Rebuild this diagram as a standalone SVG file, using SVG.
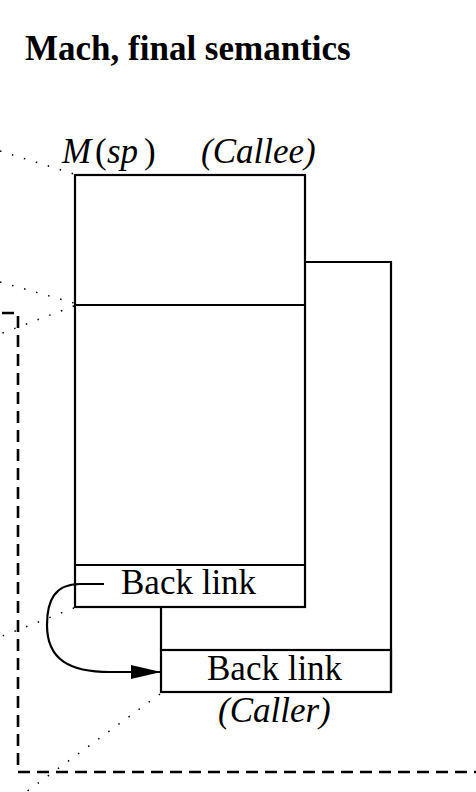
<svg xmlns="http://www.w3.org/2000/svg" width="476" height="792" viewBox="0 0 476 792">
<style>
.box{fill:none;stroke:#000;stroke-width:2.2}
.ln{fill:none;stroke:#000;stroke-width:2.2}
.dot{fill:none;stroke:#000;stroke-width:1.5;stroke-dasharray:1.5 11}
.dash{fill:none;stroke:#000;stroke-width:2.6;stroke-dasharray:12 7}
.t{font-family:"Liberation Serif","Times New Roman",serif;font-size:35px;fill:#000}
.i{font-style:italic}
.title{font-family:"Liberation Serif","Times New Roman",serif;font-size:35px;font-weight:bold;fill:#000}
</style>
<defs>
<marker id="ah" markerWidth="30" markerHeight="14" refX="30" refY="7" orient="auto" markerUnits="userSpaceOnUse">
<path d="M0,0 L30,7 L0,14 Z" fill="#000"/>
</marker>
</defs>
<text class="title" x="25" y="60">Mach, final semantics</text>
<g id="callee">
<rect class="box" x="75" y="175" width="230" height="432"/>
<line class="ln" x1="75" y1="305" x2="305" y2="305"/>
<line class="ln" x1="75" y1="565" x2="305" y2="565"/>
<text class="t" x="121" y="594">Back link</text>
<text class="t" y="163"><tspan class="i" x="62">M</tspan><tspan x="95">(</tspan><tspan class="i" x="107">sp</tspan><tspan x="144">)</tspan></text>
<text class="t i" x="201" y="163">(Callee)</text>
</g>
<g id="caller">
<polyline class="ln" points="305,262 391,262 391,692"/>
<line class="ln" x1="161" y1="607" x2="161" y2="650"/>
<rect class="box" x="161" y="650" width="230" height="42"/>
<text class="t" x="207" y="680">Back link</text>
<text class="t i" x="218" y="722">(Caller)</text>
</g>
<g id="connectors">
<path class="ln" d="M104,584 L80,584 C55,584 47,600 47,625 C47,660 70,672 110,672 L161,672" marker-end="url(#ah)"/>
<polyline class="dash" points="2,313 18,313 18,772 476,772"/>
<line class="dot" x1="0" y1="151" x2="74" y2="174"/>
<line class="dot" x1="0" y1="282" x2="74" y2="303"/>
<line class="dot" x1="74" y1="306" x2="0" y2="334"/>
<line class="dot" x1="74" y1="608" x2="0" y2="637"/>
<line class="dot" x1="160" y1="694" x2="26" y2="792"/>
</g>
</svg>
